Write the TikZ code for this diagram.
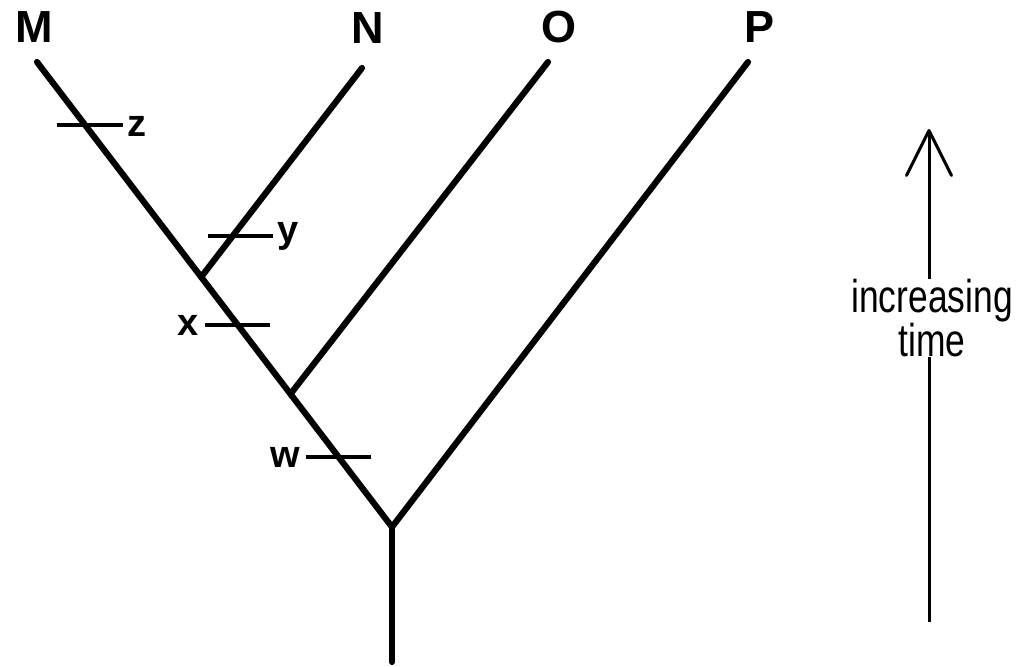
\documentclass[tikz,border=0pt]{standalone}
\usepackage{fontspec}
\setmainfont{Liberation Sans}
\newfontfamily\narrowfont[FakeStretch=0.77]{Liberation Sans}
\usetikzlibrary{arrows.meta,calc}
\begin{document}
\begin{tikzpicture}[x=0.5pt,y=-0.5pt,
  branch/.style={line width=3.1pt,line cap=round},
  tick/.style={line width=1.6pt},
  taxon/.style={font=\fontsize{22.5}{24}\selectfont\bfseries,anchor=base,inner sep=0pt},
  event/.style={font=\fontsize{19}{21}\selectfont\bfseries,anchor=base,inner sep=0pt},
  timelabel/.style={font=\narrowfont\fontsize{23}{20}\selectfont,align=center,fill=white,inner sep=0pt},
  timearrow/.style={line width=1.5pt,-{Straight Barb[length=22.5pt,width=22.5pt,line cap=round,line join=round]}}]
\useasboundingbox (0,0) rectangle (1027,667);
% tree coordinates
\coordinate (R) at (392,662);
\coordinate (J) at (392,527);
\coordinate (Mt) at (37,62);
\coordinate (Nt) at (362,68);
\coordinate (Ot) at (548,62);
\coordinate (Pt) at (748,62);
\coordinate (JN) at ($(J)!0.5376!(Mt)$);
\coordinate (JO) at ($(J)!0.2860!(Mt)$);
% branches
\draw[branch] (R) -- (J);
\draw[branch] (J) -- (Mt);
\draw[branch] (J) -- (Pt);
\draw[branch] (JN) -- (Nt);
\draw[branch] (JO) -- (Ot);
% ticks
\coordinate (z1) at (57,125); \coordinate (z2) at (123,125);
\coordinate (y1) at (208,236); \coordinate (y2) at (273,236);
\coordinate (x1) at (205,325); \coordinate (x2) at (270,325);
\coordinate (w1) at (306,457); \coordinate (w2) at (371,457);
\draw[tick] (z1) -- (z2);
\draw[tick] (y1) -- (y2);
\draw[tick] (x1) -- (x2);
\draw[tick] (w1) -- (w2);
% taxon labels
\node[taxon] (M) at (34,43) {M};
\node[taxon] (N) at (368,44) {N};
\node[taxon] (O) at (559,43) {O};
\node[taxon] (P) at (759,43) {P};
% event labels
\node[event] (lz) at (137,137) {z};
\node[event] (ly) at (288,243) {y};
\node[event] (lx) at (188,336) {x};
\node[event] (lw) at (285,467) {w};
% time arrow
\coordinate (ab) at (929,622);
\coordinate (at) at (929,129);
\draw[timearrow] (ab) -- (at);
\node[timelabel] (tl) at (932,318) {increasing\\time};
\end{tikzpicture}
\end{document}
